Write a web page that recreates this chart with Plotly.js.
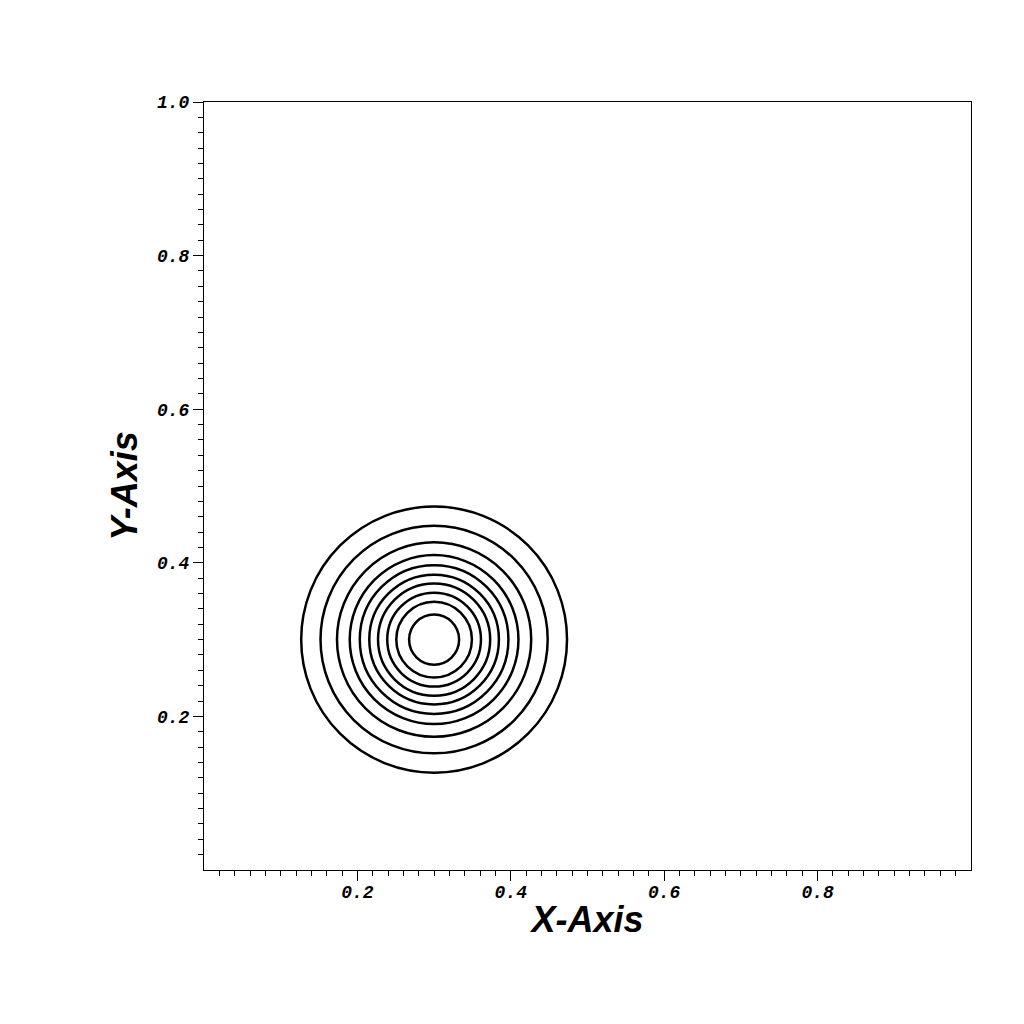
<!DOCTYPE html>
<html>
<head>
<meta charset="utf-8">
<script src="https://cdn.plot.ly/plotly-3.0.1.min.js"></script>
<style>html,body{margin:0;padding:0;background:#fff;}#chart{width:1024px;height:1024px;}</style>
</head>
<body>
<div id="chart"></div>
<script>
// Contour rings (concentric level curves)
const centerX = 0.3;
const centerY = 0.3;
const ringRadii = [0.1733, 0.1481, 0.1266, 0.1100, 0.0969, 0.0845, 0.0731, 0.0611, 0.0493, 0.0326];
const xTickVals = [0.2, 0.4, 0.6, 0.8];
const xTickText = ["0.2", "0.4", "0.6", "0.8"];
const yTickVals = [0.2, 0.4, 0.6, 0.8, 1.0];
const yTickText = ["0.2", "0.4", "0.6", "0.8", "1.0"];

const minorVals = [];
for (let i = 1; i < 50; i++) minorVals.push(Math.round(i * 2) / 100);

const tickFont = {family: "Liberation Mono, Courier New, monospace", size: 18, color: "#000", weight: "bold", style: "italic"};
const titleFont = {family: "Liberation Sans, Arial, sans-serif", size: 36, color: "#000", weight: "bold", style: "italic"};

const shapes = ringRadii.map(r => ({
  type: "circle", xref: "x", yref: "y",
  x0: centerX - r, x1: centerX + r, y0: centerY - r, y1: centerY + r,
  line: {color: "#000", width: 2.5}
}));

const trace = {x: [centerX], y: [centerY], type: "scatter", mode: "markers",
  marker: {size: 1, color: "rgba(0,0,0,0)"}, hoverinfo: "skip", showlegend: false};

const axisCommon = {
  range: [0, 1], showgrid: false, zeroline: false,
  showline: true, mirror: true, linecolor: "#000", linewidth: 1,
  ticks: "outside", ticklen: 10, tickwidth: 1, tickcolor: "#000",
  tickmode: "array", tickfont: tickFont,
  minor: {tickmode: "array", tickvals: minorVals, ticks: "outside", ticklen: 5, tickwidth: 1, tickcolor: "#000", showgrid: false}
};

const layout = {
  width: 1024, height: 1024,
  paper_bgcolor: "#fff", plot_bgcolor: "#fff",
  margin: {l: 204, r: 53, t: 102, b: 154, autoexpand: false},
  showlegend: false,
  xaxis: Object.assign({}, axisCommon, {
    tickvals: xTickVals, ticktext: xTickText, ticklabelstandoff: -5,
    title: {text: "X-Axis", font: titleFont, standoff: 5}
  }),
  yaxis: Object.assign({}, axisCommon, {
    tickvals: yTickVals, ticktext: yTickText,
    title: {text: "Y-Axis", font: titleFont, standoff: 8}
  }),
  shapes: shapes
};

Plotly.newPlot("chart", [trace], layout, {displayModeBar: false, staticPlot: true});
</script>
</body>
</html>
